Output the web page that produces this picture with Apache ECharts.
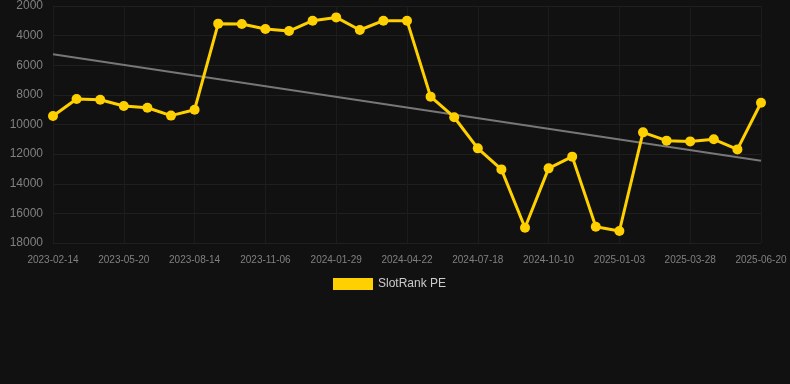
<!DOCTYPE html>
<html>
<head>
<meta charset="utf-8">
<script src="https://cdn.jsdelivr.net/npm/echarts@6/dist/echarts.min.js"></script>
<style>
html,body{margin:0;padding:0;background:#111111;}
#c{width:790px;height:384px;}
</style>
</head>
<body>
<div id="c"></div>
<script>
var categories = [
  '2023-02-14','2023-03-18','2023-04-19','2023-05-20','2023-06-18','2023-07-16',
  '2023-08-14','2023-09-11','2023-10-09','2023-11-06','2023-12-04','2024-01-01',
  '2024-01-29','2024-02-26','2024-03-25','2024-04-22','2024-05-21','2024-06-19',
  '2024-07-18','2024-08-14','2024-09-12','2024-10-10','2024-11-07','2024-12-06',
  '2025-01-03','2025-01-31','2025-02-28','2025-03-28','2025-04-25','2025-05-23',
  '2025-06-20'
];
var rankValues = [
  9430, 8280, 8330, 8750, 8870, 9400, 9000, 3190, 3210, 3550, 3690, 2990,
  2770, 3620, 2990, 2990, 8120, 9510, 11610, 13030, 16970, 12960, 12170, 16900,
  17190, 10530, 11090, 11140, 11000, 11680, 8530
];
var trendStart = 5260;
var trendEnd = 12440;
var yTicks = { min: 2000, max: 18000, interval: 2000 };

var chart = echarts.init(document.getElementById('c'), null, {renderer:'canvas'});
chart.setOption({
  backgroundColor: '#111111',
  animation: false,
  grid: { left: 53, right: 29, top: 6, bottom: 141 },
  legend: {
    data: ['SlotRank PE'],
    top: 273,
    left: 328,
    icon: 'rect',
    itemWidth: 40,
    itemHeight: 12,
    itemGap: 10,
    textStyle: { color: '#cccccc', fontSize: 12, fontFamily: 'Liberation Sans, Arial, sans-serif' }
  },
  xAxis: {
    type: 'category',
    data: categories,
    boundaryGap: false,
    axisLine: { show: false },
    axisTick: { show: false },
    axisLabel: { interval: 2, color: '#808080', fontSize: 10, margin: 12, fontFamily: 'Liberation Sans, Arial, sans-serif' },
    splitLine: { show: true, interval: 2, lineStyle: { color: '#1c1c1c', width: 1 } }
  },
  yAxis: {
    type: 'value',
    inverse: true,
    min: yTicks.min,
    max: yTicks.max,
    interval: yTicks.interval,
    axisLine: { show: false },
    axisTick: { show: false },
    axisLabel: { color: '#808080', fontSize: 12, margin: 10, fontFamily: 'Liberation Sans, Arial, sans-serif',
      formatter: function (v) { return String(v); } },
    splitLine: { lineStyle: { color: '#1f1f1f', width: 1 } }
  },
  series: [
    {
      name: 'Trend',
      type: 'line',
      data: [[0, trendStart], [categories.length - 1, trendEnd]],
      symbol: 'none',
      lineStyle: { color: '#777777', width: 2 },
      z: 1,
      silent: true
    },
    {
      name: 'SlotRank PE',
      type: 'line',
      data: rankValues,
      symbol: 'circle',
      symbolSize: 10,
      itemStyle: { color: '#FFD000' },
      lineStyle: { color: '#FFD000', width: 3 },
      z: 3
    }
  ]
});
</script>
</body>
</html>
